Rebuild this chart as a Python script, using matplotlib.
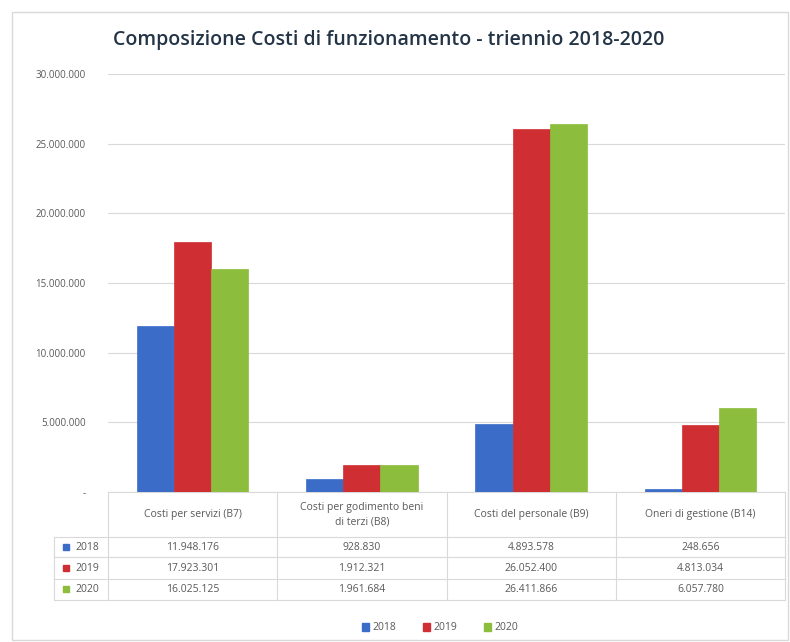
import matplotlib.pyplot as plt
import matplotlib.transforms as mtransforms
from matplotlib.patches import Rectangle, Patch
import numpy as np

categories = ["Costi per servizi (B7)", "Costi per godimento beni\ndi terzi (B8)",
              "Costi del personale (B9)", "Oneri di gestione (B14)"]
years = ["2018", "2019", "2020"]
v2018 = [11948176, 928830, 4893578, 248656]
v2019 = [17923301, 1912321, 26052400, 4813034]
v2020 = [16025125, 1961684, 26411866, 6057780]
colors = ["#3a6cc8", "#cf2f33", "#8cbd3c"]
yticks = [0, 5000000, 10000000, 15000000, 20000000, 25000000, 30000000]


def fmt(v):
    return f"{v:,}".replace(",", ".")


plt.rcParams["font.family"] = ["Open Sans", "DejaVu Sans"]
fig = plt.figure(figsize=(7.9, 6.42), dpi=100)
# chart frame
fig.patches.append(Rectangle((12 / 790, 2 / 642), 776 / 790, 628 / 642, transform=fig.transFigure,
                             fill=False, edgecolor="#d9d9d9", linewidth=1))
ax = fig.add_axes([108 / 790, 1 - 492 / 642, 677 / 790, 418 / 642])

series = [v2018, v2019, v2020]
x = np.arange(len(categories))
w = 0.22
for i, (vals, c) in enumerate(zip(series, colors)):
    ax.bar(x + (i - 1) * w, vals, width=w, color=c, edgecolor=c, linewidth=0.5, zorder=3)

ax.set_xlim(-0.5, 3.5)
ax.set_ylim(0, 30000000)
ax.set_yticks(yticks)
ax.set_yticklabels(["-"] + [fmt(t) for t in yticks[1:]], fontsize=7, color="#595959")
ax.tick_params(axis="y", length=0, pad=16)
ax.tick_params(axis="x", length=0, labelbottom=False)
ax.grid(axis="y", color="#d9d9d9", linewidth=0.8, zorder=0)
for s in ax.spines.values():
    s.set_visible(False)

# data table under the axes
trans = mtransforms.blended_transform_factory(ax.transData, ax.transAxes)
ytop, yhead = 0.0, -0.108
row_edges = [-0.108, -0.156, -0.208, -0.258]
xlab = -0.82
lc = "#d9d9d9"
lines = []
for xe in [-0.5, 0.5, 1.5, 2.5, 3.5]:
    lines.append(([xe, xe], [ytop, row_edges[-1]]))
lines.append(([xlab, xlab], [row_edges[0], row_edges[-1]]))
lines.append(([-0.5, 3.5], [ytop, ytop]))
for ye in row_edges:
    lines.append(([xlab, 3.5], [ye, ye]))
for xs, ys in lines:
    ax.plot(xs, ys, color=lc, linewidth=0.8, transform=trans, clip_on=False)

for j, cat in enumerate(categories):
    ax.text(j, (ytop + yhead) / 2, cat, transform=trans, ha="center", va="center",
            fontsize=7.5, color="#595959", linespacing=1.5)
for i, (yr, vals, c) in enumerate(zip(years, series, colors)):
    yc = (row_edges[i] + row_edges[i + 1]) / 2
    ax.plot([xlab + 0.07], [yc], marker="s", markersize=4.5, color=c, transform=trans, clip_on=False)
    ax.text(xlab + 0.13, yc, yr, transform=trans, ha="left", va="center", fontsize=7.5, color="#595959")
    for j, v in enumerate(vals):
        ax.text(j, yc, fmt(v), transform=trans, ha="center", va="center", fontsize=7.5, color="#595959")

fig.text(0.492, 1 - 40 / 642, "Composizione Costi di funzionamento - triennio 2018-2020",
         ha="center", va="center", fontsize=14, fontweight="semibold", color="#243447")

handles = [Patch(facecolor=c, edgecolor=c) for c in colors]
fig.legend(handles, years, loc="center", bbox_to_anchor=(0.557, 1 - 628 / 642), ncol=3,
           frameon=False, fontsize=7.5, handlelength=0.7, handleheight=0.7, handletextpad=0.3,
           columnspacing=2.6, labelcolor="#595959")

fig.savefig("out.png", dpi=100)
